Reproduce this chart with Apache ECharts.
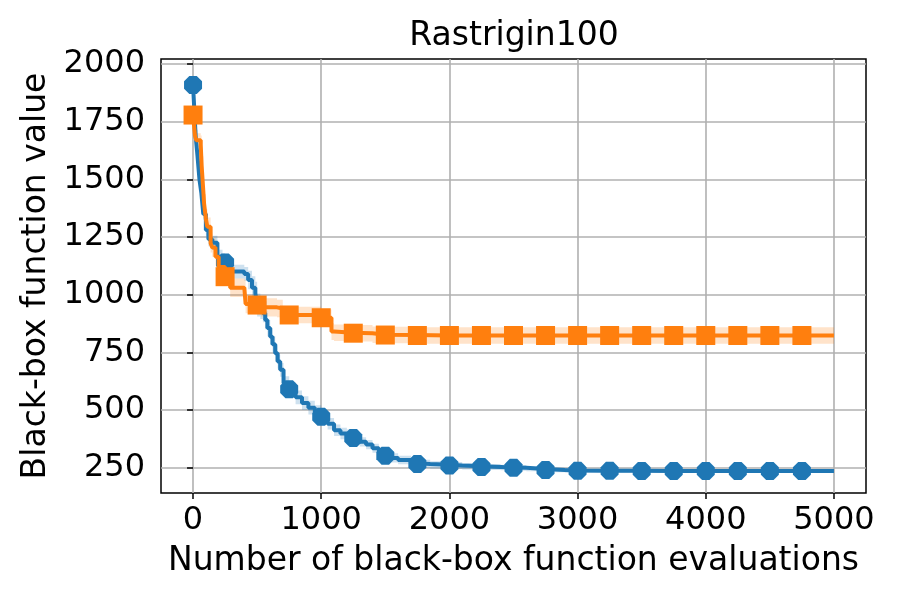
<!DOCTYPE html>
<html>
<head>
<meta charset="utf-8">
<script src="https://cdn.jsdelivr.net/npm/echarts@6/dist/echarts.min.js"></script>
<style>
  html, body { margin: 0; padding: 0; background: #fff; }
  #chart { width: 900px; height: 600px; }
</style>
</head>
<body>
<div id="chart"></div>
<script>
// best-so-far curves (x = evaluations)
const blueEvals = [0, 10, 20, 35, 50, 65, 80, 100, 120, 150, 190, 230, 250, 280,
  400, 430, 460, 486, 500, 525, 545, 563, 580, 602, 620, 641, 660, 680, 706, 750,
  800, 850, 900, 950, 1000, 1050, 1100, 1150, 1200, 1250, 1300, 1350, 1400,
  1450, 1500, 1550, 1600, 1700, 1750, 1850, 2000, 2100, 2250, 2400, 2500, 2600, 2750, 2900, 3000, 3250, 3500, 3750, 4000,
  4250, 4500, 4750, 5000]
const blueMean = [1909, 1800, 1690, 1600, 1500, 1440, 1350, 1280, 1240, 1225, 1165, 1150, 1140, 1100,
  1090, 1064, 1030, 1006, 955, 940, 920, 890, 855, 818, 785, 746, 710, 674, 616, 590,
  555, 530, 510, 490, 471, 440, 412, 398, 390, 378, 362, 350, 334,
  315, 302, 292, 283, 269, 266, 262, 259, 256, 253, 251, 249, 244, 240, 238, 236, 236, 235, 235, 235,
  235, 235, 235, 234]
const blueSpread = [15, 20, 25, 25, 25, 25, 25, 25, 30, 30, 30, 30, 30, 30,
  30, 40, 50, 50, 50, 45, 40, 40, 35, 35, 35, 35, 30, 30, 30, 30,
  30, 30, 30, 30, 25, 25, 25, 25, 25, 20, 20, 20, 20,
  20, 20, 20, 18, 18, 18, 16, 15, 14, 13, 12, 12, 10, 10, 9, 8, 8, 8, 8, 8,
  8, 8, 8, 8]

const orangeEvals = [0, 15, 25, 60, 67, 80, 86, 100, 111, 137, 150, 175, 200, 250, 290, 400, 410, 500, 530, 655,
  700, 750, 1000, 1080, 1100, 1250, 1400, 1500, 1750, 2000, 2250, 2500, 2750, 3000, 3250, 3500, 3750, 4000, 4250, 4500,
  4750, 5000]
const orangeMean = [1779, 1690, 1670, 1650, 1560, 1450, 1396, 1330, 1295, 1223, 1205, 1165, 1120, 1078, 1030, 1025, 960, 955, 945, 940,
  912, 912, 900, 840, 835, 833, 826, 825, 823, 823, 823, 823, 823, 823, 823, 823, 823, 823, 823, 823,
  823, 823]
const orangeSpread = [20, 30, 30, 40, 40, 40, 40, 40, 40, 40, 40, 40, 40, 40, 40, 40, 40, 40, 40, 38,
  36, 36, 36, 36, 36, 36, 36, 36, 36, 36, 36, 36, 36, 36, 36, 36, 36, 36, 36, 36,
  36, 36]

const markerEvals = [0, 250, 500, 750, 1000, 1250, 1500, 1750, 2000, 2250, 2500, 2750, 3000, 3250, 3500, 3750, 4000, 4250, 4500, 4750]
const xTicks = [0, 1000, 2000, 3000, 4000, 5000]
const yTicks = [250, 500, 750, 1000, 1250, 1500, 1750, 2000]

const BLUE = '#1f77b4'
const ORANGE = '#ff7f0e'
const FONT = 'DejaVu Sans'
const OCTAGON = 'path://M29.3,0L70.7,0L100,29.3L100,70.7L70.7,100L29.3,100L0,70.7L0,29.3Z'

// shaded spread drawn as one step-shaped polygon through the axis scales
function bandSeries(evals, mean, spread, color) {
  const rows = evals.map((x, i) => [x, mean[i] - spread[i], mean[i] + spread[i]])
  return {
    type: 'custom', silent: true, z: 1,
    data: rows,
    encode: { x: 0, y: [1, 2] },
    renderItem(params, api) {
      if (params.dataIndex !== 0) return null
      const upper = []
      const lower = []
      rows.forEach((r, i) => {
        const next = i + 1 < rows.length ? rows[i + 1][0] : r[0]
        upper.push(api.coord([r[0], r[2]]), api.coord([next, r[2]]))
        lower.push(api.coord([r[0], r[1]]), api.coord([next, r[1]]))
      })
      return {
        type: 'polygon',
        shape: { points: upper.concat(lower.reverse()) },
        style: { fill: color },
      }
    },
  }
}

function lineSeries(evals, mean, color, z) {
  return {
    type: 'line', step: 'end', symbol: 'none', z,
    data: evals.map((x, i) => [x, mean[i]]),
    lineStyle: { color, width: 4 },
  }
}

function markerSeries(evals, mean, color, symbol, size, z) {
  return {
    type: 'scatter', symbol, symbolSize: size, z,
    data: markerEvals.map((x) => [x, mean[evals.indexOf(x)]]),
    itemStyle: { color, opacity: 1 },
  }
}

const chart = echarts.init(document.getElementById('chart'))
chart.setOption({
  animation: false,
  backgroundColor: '#fff',
  grid: { left: 161, top: 59, right: 34, bottom: 107, show: true, borderColor: '#000', borderWidth: 1.5 },
  graphic: [{
    type: 'text', x: 514, y: 36,
    style: { text: 'Rastrigin100', font: '33px "DejaVu Sans"', fill: '#000', textAlign: 'center', textVerticalAlign: 'middle' },
  }],
  xAxis: {
    type: 'value', min: -250, max: 5250,
    name: 'Number of black-box function evaluations', nameLocation: 'middle', nameGap: 52,
    nameTextStyle: { fontFamily: FONT, fontSize: 33, color: '#000' },
    axisLine: { show: false },
    axisTick: { show: true, customValues: xTicks, length: 6, lineStyle: { color: '#000', width: 1.5 } },
    axisLabel: { customValues: xTicks, margin: 12, fontFamily: FONT, fontSize: 32, color: '#000', formatter: (v) => String(v) },
    splitLine: { show: true, lineStyle: { color: '#b0b0b0', width: 1.6 } },
  },
  yAxis: {
    type: 'value', min: 140, max: 2022,
    name: 'Black-box function value', nameLocation: 'middle', nameGap: 102,
    nameTextStyle: { fontFamily: FONT, fontSize: 33, color: '#000' },
    axisLine: { show: false },
    axisTick: { show: true, customValues: yTicks, length: 6, lineStyle: { color: '#000', width: 1.5 } },
    axisLabel: { customValues: yTicks, margin: 16, fontFamily: FONT, fontSize: 32, color: '#000', formatter: (v) => String(v) },
    splitLine: { show: true, lineStyle: { color: '#b0b0b0', width: 1.6 } },
  },
  series: [
    bandSeries(blueEvals, blueMean, blueSpread, 'rgba(31,119,180,0.22)'),
    bandSeries(orangeEvals, orangeMean, orangeSpread, 'rgba(255,127,14,0.22)'),
    lineSeries(blueEvals, blueMean, BLUE, 3),
    markerSeries(blueEvals, blueMean, BLUE, OCTAGON, 18, 4),
    lineSeries(orangeEvals, orangeMean, ORANGE, 5),
    markerSeries(orangeEvals, orangeMean, ORANGE, 'rect', 19, 6),
  ],
})
</script>
</body>
</html>
